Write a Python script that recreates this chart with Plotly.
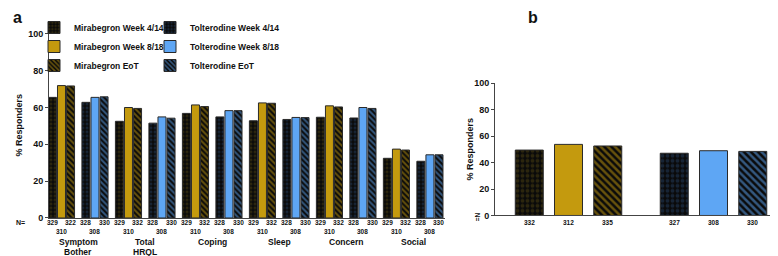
import plotly.graph_objects as go

# ---------------- data ----------------
categories = ["Symptom<br>Bother", "Total<br>HRQL", "Coping", "Sleep", "Concern", "Social"]
mir_w4 = [65.5, 52.5, 56.8, 52.8, 54.7, 32.4]
mir_w8 = [71.9, 60.0, 61.4, 62.5, 60.9, 37.4]
mir_eot = [71.7, 59.5, 60.5, 62.3, 60.3, 36.9]
tol_w4 = [62.8, 51.5, 54.9, 53.5, 54.3, 30.8]
tol_w8 = [65.5, 54.9, 58.3, 54.6, 60.0, 34.3]
tol_eot = [65.8, 54.2, 58.3, 54.5, 59.5, 34.3]

mir_n_w4 = [329, 329, 329, 329, 329, 329]
mir_n_w8 = [310, 310, 310, 310, 310, 310]
mir_n_eot = [322, 332, 332, 332, 332, 332]
tol_n_w4 = [328, 328, 328, 328, 328, 328]
tol_n_w8 = [308, 308, 308, 308, 308, 308]
tol_n_eot = [330, 330, 330, 330, 330, 330]

b_groups = ["Mirabegron", "Tolterodine"]
b_mir = [49.5, 53.8, 52.6]     # Week 4/14, Week 8/18, EoT
b_tol = [47.1, 49.0, 48.5]
b_mir_n = [332, 312, 335]
b_tol_n = [327, 308, 330]

y_ticks = [0, 20, 40, 60, 80, 100]

# ---------------- style ----------------
W, H = 778, 256
GOLD = "#C49A0E"
BLUE = "#5EA6F4"
DARK = "#0a0a0a"
MIR_DOT = "#4e4112"
TOL_DOT = "#243d60"
OUT = "#2a2a2a"
FONT = "Liberation Sans"

slots = []
for c in categories:
    slots += [c + "|M", c + "|T"]
mir_x = [c + "|M" for c in categories]
tol_x = [c + "|T" for c in categories]

ax_l, ax_r = 41, 437
xa_range = [-0.373, 11.45]
slot_px = (ax_r - ax_l) / (xa_range[1] - xa_range[0])
BARGAP = 0.188
pitch_a = slot_px * (1 - BARGAP) / 3
barw_a = 8 / slot_px

bx_l, bx_r = 487, 778
xb_range = [-0.507, 1.5]
slotb_px = (bx_r - bx_l) / (xb_range[1] - xb_range[0])
pitch_b = slotb_px * (1 - BARGAP) / 3
barw_b = 28 / slotb_px

def py(p):
    return 1 - p / H

def px(p):
    return p / W

fig = go.Figure()

def add_bar(name, x, y, color, pattern, og, legend, xa="x", ya="y", width=None, showlegend=True):
    fig.add_trace(go.Bar(
        name=name, x=x, y=y, xaxis=xa, yaxis=ya,
        offsetgroup=og, width=width,
        marker=dict(color=color, line=dict(color=OUT, width=1), pattern=pattern),
        legend=legend, showlegend=showlegend, hoverinfo="y+name",
    ))

def checker(fg, size=4):
    return dict(shape=".", bgcolor=DARK, fgcolor=fg, size=size, solidity=0.45)

def stripe(fg, size=4):
    return dict(shape="\\", bgcolor=DARK, fgcolor=fg, size=size, solidity=0.5)

solid = dict(shape="")

wa = [barw_a] * len(categories)
add_bar("Mirabegron Week 4/14", mir_x, mir_w4, DARK, checker(MIR_DOT), "1", "legend", width=wa)
add_bar("Mirabegron Week 8/18", mir_x, mir_w8, GOLD, solid, "2", "legend", width=wa)
add_bar("Mirabegron EoT", mir_x, mir_eot, DARK, stripe(GOLD), "3", "legend", width=wa)
add_bar("Tolterodine Week 4/14", tol_x, tol_w4, DARK, checker(TOL_DOT), "1", "legend2", width=wa)
add_bar("Tolterodine Week 8/18", tol_x, tol_w8, BLUE, solid, "2", "legend2", width=wa)
add_bar("Tolterodine EoT", tol_x, tol_eot, DARK, stripe(BLUE), "3", "legend2", width=wa)

# panel b
wb = [barw_b]
add_bar("Mirabegron Week 4/14", [b_groups[0]], [b_mir[0]], DARK, checker(MIR_DOT, 5), "b1", "legend", "x2", "y2", wb, False)
add_bar("Mirabegron Week 8/18", [b_groups[0]], [b_mir[1]], GOLD, solid, "b2", "legend", "x2", "y2", wb, False)
add_bar("Mirabegron EoT", [b_groups[0]], [b_mir[2]], DARK, stripe(GOLD, 5), "b3", "legend", "x2", "y2", wb, False)
add_bar("Tolterodine Week 4/14", [b_groups[1]], [b_tol[0]], DARK, checker(TOL_DOT, 5), "b1", "legend", "x2", "y2", wb, False)
add_bar("Tolterodine Week 8/18", [b_groups[1]], [b_tol[1]], BLUE, solid, "b2", "legend", "x2", "y2", wb, False)
add_bar("Tolterodine EoT", [b_groups[1]], [b_tol[2]], DARK, stripe(BLUE, 5), "b3", "legend", "x2", "y2", wb, False)

axis_line = dict(showline=True, linecolor="#444", linewidth=1, mirror=False,
                 showgrid=False, zeroline=False)
tickfont = dict(family=FONT, size=9, color="#111", weight="bold")
legfont = dict(family=FONT, size=8.5, color="#111", weight="bold")

fig.update_layout(
    width=W, height=H,
    margin=dict(l=0, r=0, t=0, b=0),
    paper_bgcolor="white", plot_bgcolor="white",
    barmode="group", bargap=BARGAP, bargroupgap=0,
    font=dict(family=FONT, color="#111"),
    xaxis=dict(domain=[px(ax_l), px(ax_r)], type="category",
               categoryorder="array", categoryarray=slots,
               range=xa_range, showticklabels=False, ticks="", anchor="y", **axis_line),
    yaxis=dict(domain=[py(213.3), py(21.7)], range=[0, 100], tickvals=y_ticks,
               ticks="outside", ticklen=3, tickcolor="#444", tickfont=tickfont,
               anchor="x", **axis_line),
    xaxis2=dict(domain=[px(bx_l), 1.0], type="category", range=xb_range,
                categoryorder="array", categoryarray=b_groups,
                showticklabels=False, ticks="", anchor="y2", **axis_line),
    yaxis2=dict(domain=[py(210.7), py(73.2)], range=[0, 100], tickvals=y_ticks,
                ticks="outside", ticklen=3, tickcolor="#444", tickfont=tickfont,
                anchor="x2", **axis_line),
    legend=dict(x=px(26), y=1.0, xanchor="left", yanchor="top",
                font=legfont, bgcolor="rgba(0,0,0,0)", tracegroupgap=0),
    legend2=dict(x=px(142), y=1.0, xanchor="left", yanchor="top",
                 font=legfont, bgcolor="rgba(0,0,0,0)", tracegroupgap=0),
    showlegend=True,
)

ann = []
nfont = dict(family=FONT, size=6.5, color="#111", weight="bold")
catfont = dict(family=FONT, size=8.5, color="#111", weight="bold")

def note(text, x, y, xref="paper", yref="paper", xshift=0, font=nfont, **kw):
    ann.append(dict(text=text, x=x, y=y, xref=xref, yref=yref, xshift=xshift,
                    showarrow=False, font=font, xanchor="center", yanchor="middle", **kw))

for i in range(len(categories)):
    m_idx = slots.index(mir_x[i])
    t_idx = slots.index(tol_x[i])
    for idx, (n1, n2, n3) in ((m_idx, (mir_n_w4[i], mir_n_w8[i], mir_n_eot[i])),
                              (t_idx, (tol_n_w4[i], tol_n_w8[i], tol_n_eot[i]))):
        note(str(n1), idx, py(218.5), xref="x", xshift=-pitch_a)
        note(str(n3), idx, py(218.5), xref="x", xshift=pitch_a)
        note(str(n2), idx, py(227.5), xref="x")
    for k, line in enumerate(categories[i].split("<br>")):
        note(line, (m_idx + t_idx) / 2, py(238.5 + 10 * k), xref="x", font=catfont)

note("N=", px(12), py(218.5), font=dict(family=FONT, size=7, color="#111", weight="bold"))

for j, ns in enumerate((b_mir_n, b_tol_n)):
    note(str(ns[0]), j, py(218.5), xref="x2", xshift=-pitch_b)
    note(str(ns[1]), j, py(218.5), xref="x2")
    note(str(ns[2]), j, py(218.5), xref="x2", xshift=pitch_b)
note("N=", px(469), py(212), font=dict(family=FONT, size=6.5, color="#111", weight="bold"),
     textangle=90)

note("% Responders", px(11), py(117), font=dict(family=FONT, size=9, color="#111", weight="bold"),
     textangle=-90)
note("% Responders", px(462), py(142), font=dict(family=FONT, size=9, color="#111", weight="bold"),
     textangle=-90)

note("a", px(9), py(5), font=dict(family=FONT, size=16, color="#111", weight="bold"))
note("b", px(525), py(5), font=dict(family=FONT, size=16, color="#111", weight="bold"))

fig.update_layout(annotations=ann)
fig.write_html("out.html")
